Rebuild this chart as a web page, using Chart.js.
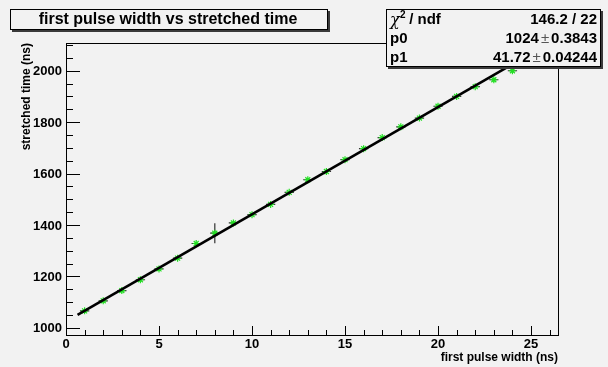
<!DOCTYPE html>
<html>
<head>
<meta charset="utf-8">
<script src="https://cdn.jsdelivr.net/npm/chart.js@4.4.1/dist/chart.umd.min.js"></script>
<style>
    body { margin: 0; background: #f2f2f2; }
    canvas { display: block; }
</style>
</head>
<body>
<canvas id="chart" width="608" height="367"></canvas>
<script>
// measured points (first pulse width in ns, stretched time in ns)
const pulseWidth = [1, 2, 3, 4, 5, 6, 7, 8, 9, 10, 11, 12, 13, 14, 15, 16, 17, 18, 19, 20, 21, 22, 23, 24];
const stretchedTime = [1066, 1105, 1145, 1187, 1229, 1271, 1328, 1368, 1408, 1440, 1480, 1527,
    1576, 1608, 1654, 1697, 1740, 1782, 1816, 1862, 1900, 1938, 1965, 2000];
const timeErr = [4, 4, 4, 4, 4, 4, 4, 39, 4, 4, 4, 4, 4, 4, 4, 4, 4, 4, 4, 4, 4, 4, 5, 6];
const widthErr = 0.25;

// fit line end points (p0 + p1*x)
const fitX = [0.62, 25.5];
const fitY = [1050, 2088];

const xTickLabels = [0, 5, 10, 15, 20, 25];
const yTickLabels = [1000, 1200, 1400, 1600, 1800, 2000];
const xMinorStep = 1;
const yMinorStep = 50;

const titleText = 'first pulse width vs stretched time';
const xTitle = 'first pulse width (ns)';
const yTitle = 'stretched time (ns)';
const statRows = [
    ['chi2', '146.2 / 22'],
    ['p0', '1024', '0.3843'],
    ['p1', '41.72', '0.04244']
];

const BG = '#f2f2f2';
const FONT = "'Liberation Sans', Arial, sans-serif";

function drawBox(ctx, x, y, w, h) {
    ctx.fillStyle = '#3a3a3a';
    ctx.fillRect(x + 2, y + 2, w, h);
    ctx.fillStyle = BG;
    ctx.fillRect(x, y, w, h);
    ctx.strokeStyle = '#000';
    ctx.lineWidth = 1;
    ctx.strokeRect(x + 0.5, y + 0.5, w - 1, h - 1);
}

const rootStyle = {
    id: 'rootStyle',
    beforeDraw(chart) {
        const ctx = chart.ctx;
        ctx.save();
        ctx.fillStyle = BG;
        ctx.fillRect(0, 0, chart.width, chart.height);
        ctx.restore();
    },
    beforeDatasetsDraw(chart) {
        // error bars
        const ctx = chart.ctx;
        const xs = chart.scales.x, ys = chart.scales.y;
        ctx.save();
        ctx.strokeStyle = '#333';
        ctx.lineWidth = 1.2;
        pulseWidth.forEach((w, i) => {
            const px = xs.getPixelForValue(w);
            const py = ys.getPixelForValue(stretchedTime[i]);
            ctx.beginPath();
            ctx.moveTo(xs.getPixelForValue(w - widthErr), py);
            ctx.lineTo(xs.getPixelForValue(w + widthErr), py);
            ctx.moveTo(px, ys.getPixelForValue(stretchedTime[i] - timeErr[i]));
            ctx.lineTo(px, ys.getPixelForValue(stretchedTime[i] + timeErr[i]));
            ctx.stroke();
        });
        ctx.restore();
    },
    afterDraw(chart) {
        const ctx = chart.ctx;
        const xs = chart.scales.x, ys = chart.scales.y;
        const a = chart.chartArea;
        const L = Math.round(a.left), R = Math.round(a.right);
        const T = Math.round(a.top), B = Math.round(a.bottom);
        ctx.save();

        // frame
        ctx.strokeStyle = '#000';
        ctx.lineWidth = 1;
        ctx.strokeRect(L + 0.5, T + 0.5, R - L, B - T);

        // x ticks
        ctx.beginPath();
        for (let v = 0; v <= xs.max; v += xMinorStep) {
            const px = Math.round(xs.getPixelForValue(v)) + 0.5;
            const len = xTickLabels.includes(v) ? 9 : 5;
            ctx.moveTo(px, B);
            ctx.lineTo(px, B - len);
        }
        // y ticks
        for (let v = 1000; v <= ys.max; v += yMinorStep) {
            const py = Math.round(ys.getPixelForValue(v)) + 0.5;
            const len = yTickLabels.includes(v) ? 14 : 7;
            ctx.moveTo(L, py);
            ctx.lineTo(L + len, py);
        }
        ctx.stroke();

        // tick labels
        ctx.fillStyle = '#000';
        ctx.font = 'bold 13px ' + FONT;
        ctx.textAlign = 'center';
        ctx.textBaseline = 'middle';
        xTickLabels.forEach(v => ctx.fillText(String(v), xs.getPixelForValue(v), 344));
        ctx.textAlign = 'right';
        yTickLabels.forEach(v => ctx.fillText(String(v), L - 4, ys.getPixelForValue(v) + 1));

        // axis titles
        ctx.font = 'bold 12px ' + FONT;
        ctx.textAlign = 'right';
        ctx.fillText(xTitle, R, 358);
        ctx.save();
        ctx.translate(27, T);
        ctx.rotate(-Math.PI / 2);
        ctx.textAlign = 'right';
        ctx.fillText(yTitle, 0, 0);
        ctx.restore();

        // title box
        drawBox(ctx, 10, 9, 318, 21);
        ctx.fillStyle = '#000';
        ctx.font = 'bold 16px ' + FONT;
        ctx.textAlign = 'center';
        ctx.fillText(titleText, 168, 20);

        // stat box
        drawBox(ctx, 386, 9, 215, 58);
        ctx.fillStyle = '#000';
        const rowY = [20, 39, 58];
        statRows.forEach((row, i) => {
            const y = rowY[i];
            ctx.textAlign = 'left';
            if (row[0] === 'chi2') {
                ctx.font = 'italic 16px "DejaVu Serif", serif';
                ctx.fillText('\u03c7', 390, y + 1);
                ctx.font = 'bold 10px ' + FONT;
                ctx.fillText('2', 400, y - 5);
                ctx.font = 'bold 15px ' + FONT;
                ctx.fillText(' / ndf', 405, y);
            } else {
                ctx.font = 'bold 15px ' + FONT;
                ctx.fillText(row[0], 390, y);
            }
            ctx.textAlign = 'right';
            ctx.font = 'bold 15px ' + FONT;
            if (row.length === 2) {
                ctx.fillText(row[1], 597, y);
            } else {
                const errW = ctx.measureText(row[2]).width;
                ctx.fillText(row[2], 597, y);
                ctx.font = '15px ' + FONT;
                ctx.fillStyle = '#555';
                const pmW = ctx.measureText('\u00b1').width;
                ctx.fillText('\u00b1', 597 - errW - 2, y);
                ctx.fillStyle = '#000';
                ctx.font = 'bold 15px ' + FONT;
                ctx.fillText(row[1], 597 - errW - pmW - 4, y);
            }
        });
        ctx.restore();
    }
};

new Chart(document.getElementById('chart'), {
    type: 'scatter',
    data: {
        datasets: [
            {
                type: 'line',
                data: fitX.map((x, i) => ({ x, y: fitY[i] })),
                borderColor: '#000',
                borderWidth: 2.6,
                pointRadius: 0,
                order: 0
            },
            {
                data: pulseWidth.map((x, i) => ({ x, y: stretchedTime[i] })),
                pointStyle: 'star',
                pointRadius: 3.5,
                borderColor: '#22e022',
                backgroundColor: '#22e022',
                borderWidth: 1.2,
                order: 1
            }
        ]
    },
    options: {
        responsive: false,
        animation: false,
        devicePixelRatio: 1,
        layout: { padding: { left: 66, top: 43, right: 50, bottom: 32 } },
        plugins: { legend: { display: false }, tooltip: { enabled: false } },
        scales: {
            x: { type: 'linear', min: 0, max: 26.45, display: false },
            y: { type: 'linear', min: 972, max: 2108, display: false }
        }
    },
    plugins: [rootStyle]
});
</script>
</body>
</html>
